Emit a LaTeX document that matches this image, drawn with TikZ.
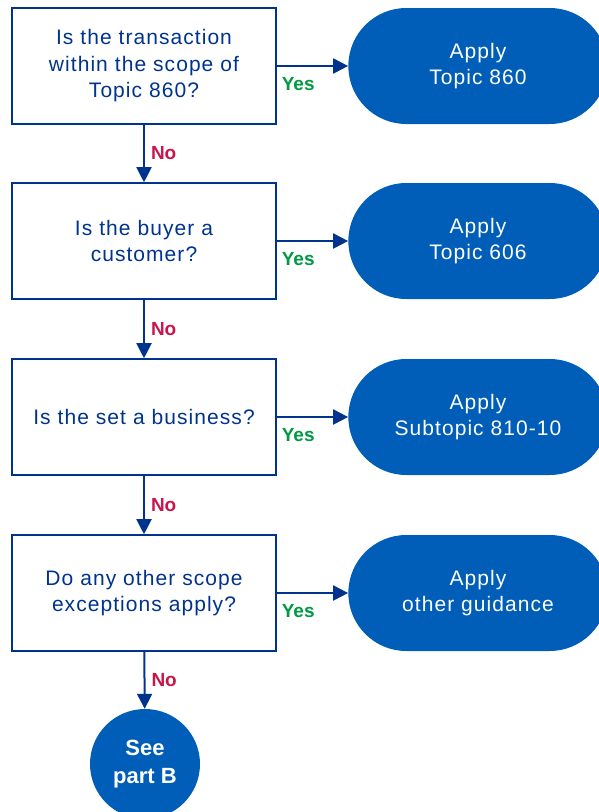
\documentclass[tikz,border=0pt]{standalone}
\usepackage{fontspec}
\setmainfont{Liberation Sans}[LetterSpace=5]
\newfontfamily\labelfont{Liberation Sans}
\usetikzlibrary{arrows.meta,shapes.misc}
\definecolor{darkblue}{HTML}{00338D}
\definecolor{midblue}{HTML}{005EB8}
\definecolor{yesgreen}{HTML}{009A44}
\definecolor{nored}{HTML}{C6164B}
\begin{document}
\begin{tikzpicture}[x=1pt,y=-1pt,
		question/.style={draw=darkblue,line width=1.6pt,minimum width=264pt,minimum height=116pt,
			text width=256pt,align=center,text=darkblue,font=\fontsize{21}{26.5}\selectfont},
		result/.style={rounded rectangle,fill=midblue,minimum width=266pt,minimum height=116pt,
			align=center,text=white,font=\fontsize{21}{26.5}\selectfont},
		flow/.style={darkblue,line width=2pt,-{Triangle[length=15pt,width=15pt]}},
		yes/.style={pos=0.3,anchor=north,inner sep=2pt,yshift=-8pt,text=yesgreen,font=\labelfont\fontsize{19}{20}\selectfont\bfseries},
		no/.style={right,inner sep=6pt,text=nored,font=\labelfont\fontsize{19}{20}\selectfont\bfseries}]
		\useasboundingbox (0,0) rectangle (599,812);
		% questions
		\node[question] (q1) at (144,66) {Is the transaction\\within the scope of\\Topic 860?};
		\node[question] (q2) at (144,241) {Is the buyer a\\customer?};
		\node[question] (q3) at (144,417) {Is the set a business?};
		\node[question] (q4) at (144,593) {Do any other scope\\exceptions apply?};
		% outcomes
		\node[result] (r1) at (478,66) {Apply\\Topic 860};
		\node[result] (r2) at (478,241) {Apply\\Topic 606};
		\node[result] (r3) at (478,417) {Apply\\Subtopic 810-10};
		\node[result] (r4) at (478,593) {Apply\\other guidance};
		\node[circle,fill=midblue,minimum size=110pt,inner sep=0pt,align=center,text=white,
			font=\labelfont\fontsize{22}{28}\selectfont\bfseries] (partb) at (145,764) {See\\part B};
		% arrows
		\foreach \i in {1,2,3,4}
		\draw[flow] (q\i) -- node[yes] {Yes} (r\i);
		\draw[flow] (q1) -- node[no] {No} (q2);
		\draw[flow] (q2) -- node[no] {No} (q3);
		\draw[flow] (q3) -- node[no] {No} (q4);
		\draw[flow] (q4) -- node[no] {No} (partb);
	\end{tikzpicture}
\end{document}
